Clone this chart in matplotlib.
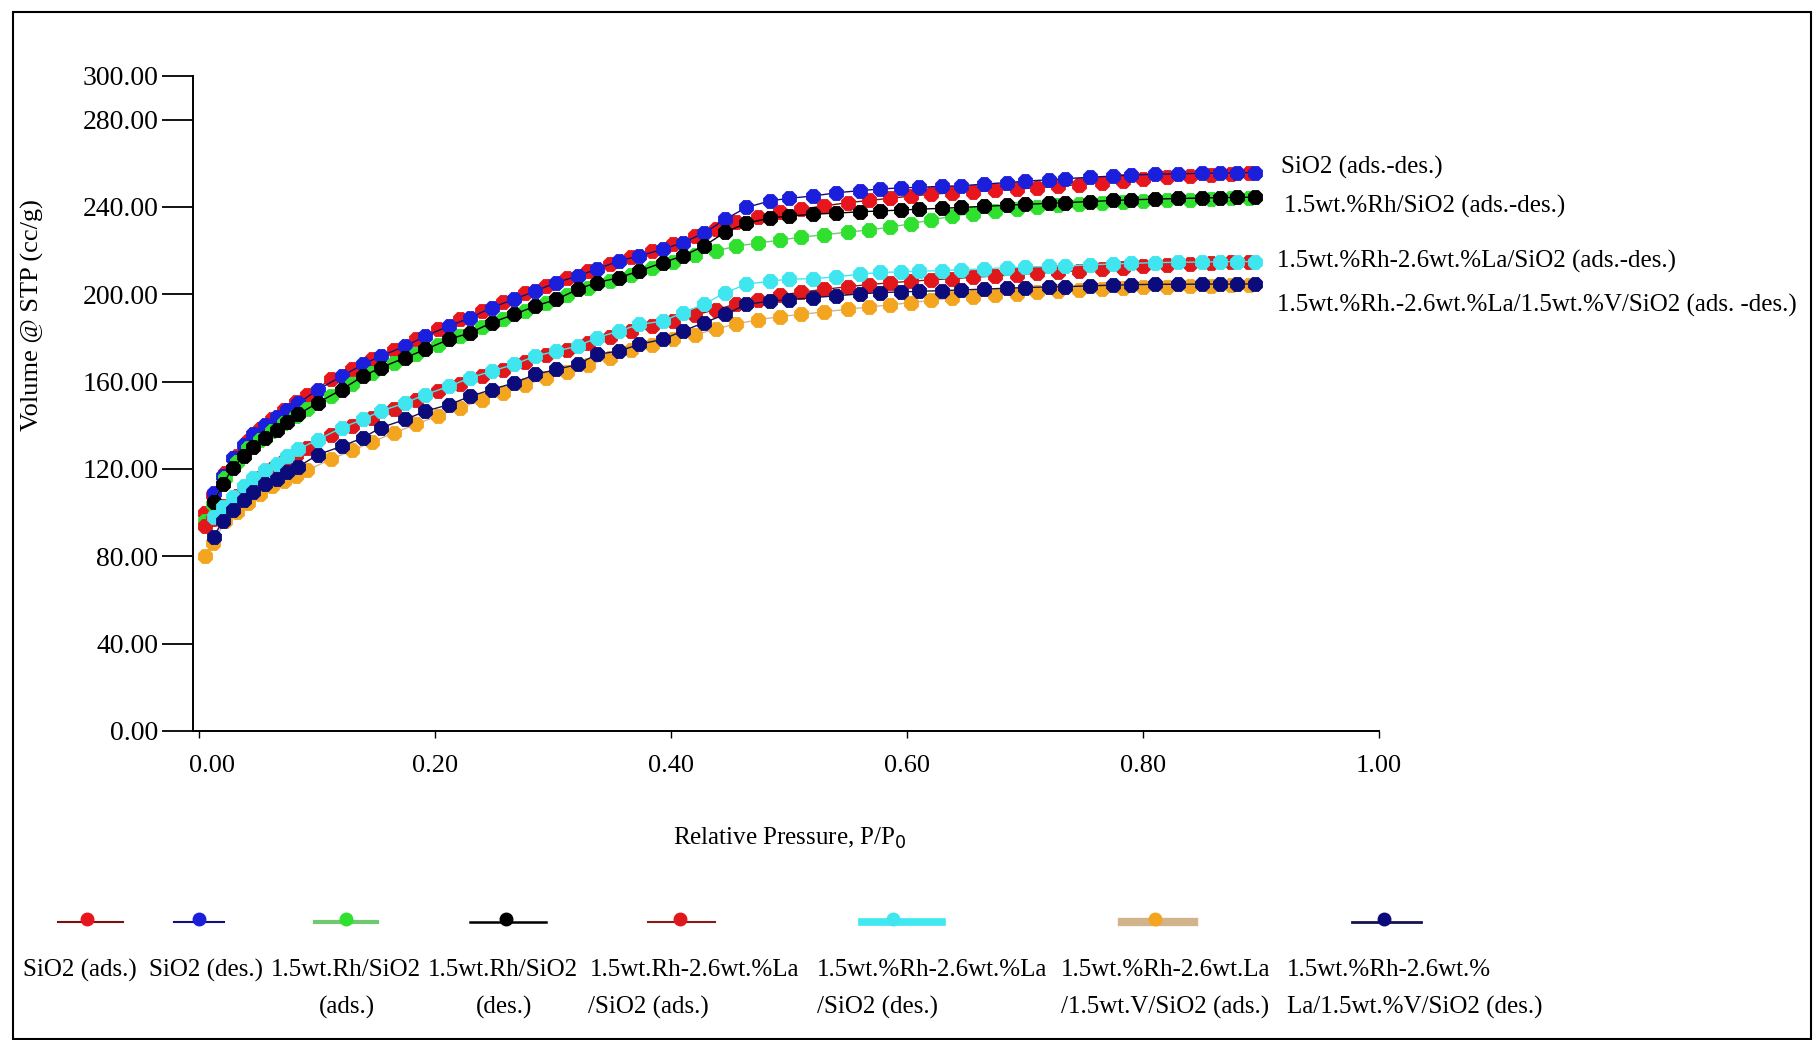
import matplotlib
matplotlib.use("Agg")
import matplotlib.pyplot as plt
import matplotlib.transforms as mtransforms
from matplotlib.lines import Line2D
from matplotlib.patches import Rectangle

plt.rcParams["font.family"] = ["Liberation Serif", "DejaVu Serif"]

# Relative pressure grids (adsorption / desorption branches)
x_ads = [0.005, 0.012, 0.022, 0.032, 0.042, 0.052, 0.062, 0.072, 0.082, 0.092,
         0.112, 0.13, 0.147, 0.165, 0.184, 0.203, 0.221, 0.24, 0.258, 0.276,
         0.294, 0.312, 0.33, 0.348, 0.366, 0.384, 0.402, 0.42, 0.438, 0.455,
         0.474, 0.492, 0.51, 0.53, 0.55, 0.568, 0.586, 0.603, 0.62, 0.638,
         0.656, 0.675, 0.693, 0.71, 0.728, 0.746, 0.765, 0.783, 0.80, 0.82,
         0.84, 0.858, 0.875, 0.89]
x_des = [0.0126, 0.02, 0.029, 0.038, 0.046, 0.056, 0.066, 0.075, 0.084, 0.101,
         0.121, 0.139, 0.154, 0.175, 0.192, 0.212, 0.23, 0.248, 0.267, 0.285,
         0.303, 0.321, 0.337, 0.356, 0.373, 0.393, 0.41, 0.428, 0.446, 0.464,
         0.484, 0.50, 0.52, 0.54, 0.56, 0.577, 0.595, 0.61, 0.63, 0.646,
         0.665, 0.685, 0.70, 0.72, 0.734, 0.755, 0.775, 0.79, 0.81, 0.83,
         0.85, 0.865, 0.88, 0.895]

sio2_ads = [100, 108, 118, 126, 133, 138.5, 143, 147, 150.5, 154,
            161, 166, 170.5, 174.5, 179.5, 184, 188.5, 192.5, 196.5, 200.5,
            204, 207.5, 210.5, 214, 217, 220, 223, 226.5, 230, 233,
            235.5, 237.5, 239, 240.5, 242, 243, 244, 245, 245.8, 246.5,
            247, 247.6, 248.2, 248.8, 249.5, 250.3, 251.2, 252, 252.8, 253.6,
            254.3, 254.8, 255.2, 255.5]
sio2_des = [109, 117, 125, 131, 136, 140, 144, 147, 150, 156.4,
            162.5, 167.9, 171.7, 176.3, 180.9, 185.5, 189.3, 193.9, 197.7, 201.5,
            205.4, 208.4, 211.5, 215.3, 217.6, 220.6, 223.7, 228, 234.4, 239.8,
            242.8, 244, 245, 246.5, 247.5, 248.2, 248.8, 249, 249.5, 249.7,
            250.5, 251.2, 251.8, 252.5, 253, 253.6, 254.2, 254.6, 255, 255.2,
            255.4, 255.5, 255.6, 255.8]
rh_ads = [96, 104, 116, 123, 129.7, 133.5, 137.5, 141, 144.5, 147.5,
          153.5, 159, 164, 168.5, 172.5, 177, 181, 185, 188.5, 192.5,
          196, 199.5, 203, 206, 209, 212, 215, 218, 219.9, 222,
          223.5, 224.8, 226.2, 227.3, 228.5, 229.5, 230.8, 232.3, 234, 235.8,
          237, 238.2, 239.2, 240, 240.8, 241.3, 241.8, 242.3, 242.7, 243.1,
          243.4, 243.7, 243.9, 244]
rh_des = [105, 113, 120.5, 126, 130, 134, 138, 141.5, 145, 150.4,
          156.4, 162.5, 166.4, 171, 174.8, 179.4, 182.4, 187, 190.8, 194.6,
          197.7, 202.3, 205.4, 207.6, 210.7, 214.5, 217.6, 222.1, 228.5, 232.5,
          235, 235.8, 236.7, 237.2, 237.8, 238.2, 238.6, 239, 239.4, 239.8,
          240.3, 240.8, 241.2, 241.7, 242, 242.5, 243, 243.3, 243.6, 243.9,
          244.1, 244.3, 244.4, 244.5]
rhla_ads = [94, 97, 103, 107.5, 112, 116, 120, 123.5, 126.5, 129.5,
            135.5, 139.5, 143.5, 147.5, 151.5, 155.5, 159, 162.5, 165.5, 169,
            172, 174.5, 177.5, 180.5, 183, 185.5, 188, 190.5, 193, 195.5,
            197.5, 199.5, 201, 202.3, 203.5, 204.5, 205.3, 206, 206.6, 207.2,
            207.8, 208.4, 209, 209.6, 210.2, 210.8, 211.5, 212.2, 212.8, 213.4,
            213.9, 214.3, 214.6, 214.8]
rhla_des = [98, 102.5, 107, 112, 116, 119.5, 122.5, 126, 129, 133.5,
            138.9, 142.7, 146.5, 150.3, 154.1, 157.9, 161.8, 164.8, 167.9, 171.7,
            174, 176.3, 180.1, 183.2, 186.2, 187.7, 191.6, 195.4, 200.8, 204.6,
            206.1, 206.9, 207.2, 208, 209.2, 210, 210.3, 210.6, 210.9, 211.2,
            211.7, 212.2, 212.5, 212.8, 213, 213.5, 213.9, 214.2, 214.5, 214.7,
            214.8, 214.9, 215, 215]
rhlav_ads = [80, 86, 96, 100.5, 104.5, 108.5, 112, 114.5, 117, 119.5,
             124.5, 128.5, 132.5, 136.5, 140.5, 144.5, 148, 151.5, 155, 158.5,
             161.5, 164.5, 167.5, 171, 174.5, 177, 179.5, 181.5, 184, 186.5,
             188.3, 189.8, 190.8, 192, 193.2, 194.2, 195.2, 196.2, 197.2, 198.2,
             199, 199.7, 200.3, 200.9, 201.4, 201.9, 202.4, 202.8, 203.2, 203.5,
             203.8, 204, 204.1, 204.2]
rhlav_des = [89, 96, 101, 106, 109.5, 113, 115.5, 118.5, 121, 126.6,
             130.4, 134.3, 138.9, 142.7, 146.5, 149.5, 153.3, 156.4, 159.4, 163.3,
             165.6, 167.9, 172.5, 174, 177.1, 179.4, 183.2, 187, 190.8, 195.4,
             196.9, 197.5, 198.5, 199.3, 200.2, 200.8, 201.1, 201.4, 201.7, 202,
             202.4, 202.8, 203.1, 203.4, 203.5, 203.9, 204.2, 204.4, 204.6, 204.6,
             204.7, 204.7, 204.7, 204.8]

series_x = [x_ads, x_des, x_ads, x_des, x_ads, x_des, x_ads, x_des]
series_y = [sio2_ads, sio2_des, rh_ads, rh_des, rhla_ads, rhla_des, rhlav_ads, rhlav_des]
marker_colors = ["#e8161c", "#1b1fdc", "#2fe02f", "#000000",
                 "#e0181c", "#3fe6ef", "#f4a51f", "#0b0b7c"]
line_colors = ["#7a1010", "#10107a", "#70c870", "#000000",
               "#8a1a1a", "#40e8f0", "#d2b48c", "#141450"]
legend_widths = [1.5, 1.5, 3.0, 1.8, 1.5, 5.5, 6.0, 2.0]

legend_line1 = ["SiO2 (ads.)", "SiO2 (des.)", "1.5wt.Rh/SiO2", "1.5wt.Rh/SiO2",
                "1.5wt.Rh-2.6wt.%La", "1.5wt.%Rh-2.6wt.%La",
                "1.5wt.%Rh-2.6wt.La", "1.5wt.%Rh-2.6wt.%"]
legend_line2 = ["", "", "(ads.)", "(des.)", "/SiO2 (ads.)", "/SiO2 (des.)",
                "/1.5wt.V/SiO2 (ads.)", "La/1.5wt.%V/SiO2 (des.)"]
side_labels = ["SiO2 (ads.-des.)", "1.5wt.%Rh/SiO2 (ads.-des.)",
               "1.5wt.%Rh-2.6wt.%La/SiO2 (ads.-des.)",
               "1.5wt.%Rh.-2.6wt.%La/1.5wt.%V/SiO2 (ads. -des.)"]

W, H = 1814, 1040
fig = plt.figure(figsize=(W / 100, H / 100), dpi=100)
ax = fig.add_axes([193 / W, 1 - 731 / H, (1379 - 193) / W, (731 - 76) / H])

for xs, ys, mc, lc in zip(series_x, series_y, marker_colors, line_colors):
    ax.plot(xs, ys, "-", color=lc, lw=1.0, marker="8", ms=10.5,
            mfc=mc, mec=mc, mew=0.6, zorder=3)

ax.set_xlim(-0.005, 1.0)
ax.set_ylim(0, 300)
ax.spines["top"].set_visible(False)
ax.spines["right"].set_visible(False)
for s in ("left", "bottom"):
    ax.spines[s].set_linewidth(1.4)

yt = [0, 40, 80, 120, 160, 200, 240, 280, 300]
ax.set_yticks(yt, [f"{v:.2f}" for v in yt])
xt = [0, 0.2, 0.4, 0.6, 0.8, 1.0]
ax.set_xticks(xt, [f"{v:.2f}" for v in xt])
ax.tick_params(axis="y", direction="out", length=22, width=1.3, pad=3, labelsize=20)
ax.tick_params(axis="x", direction="out", length=5, width=1, pad=12, labelsize=19)

# first x label sits a little right of its tick in the original
lab0 = ax.get_xticklabels()[0]
lab0.set_transform(lab0.get_transform()
                   + mtransforms.ScaledTranslation(0.13, 0, fig.dpi_scale_trans))

fig.text(790 / W, 1 - 838 / H, "Relative Pressure, P/P$_0$", ha="center", va="center",
         fontsize=18)
fig.text(32 / W, 1 - 315 / H, "Volume @ STP (cc/g)", rotation=90, ha="center",
         va="center", fontsize=19)

side_pos = [(1281, 167), (1284, 206), (1277, 261), (1277, 305)]
for (px, py), lab in zip(side_pos, side_labels):
    fig.text(px / W, 1 - py / H, lab, ha="left", va="center", fontsize=18)

# bottom legend: handle above, text below
handle_pos = [(58, 123, 87), (174, 224, 199), (315, 377, 346), (470, 546, 506),
              (648, 715, 680), (862, 942, 893), (1122, 1194, 1155), (1352, 1421, 1384)]
text_pos = [(23, None), (149, None), (271, 347), (428, 504),
            (590, 588), (817, 817), (1061, 1061), (1287, 1287)]
hy = 1 - 922 / H
for i in range(8):
    x0, x1, xm = handle_pos[i]
    fig.add_artist(Line2D([x0 / W, x1 / W], [hy, hy], transform=fig.transFigure,
                          color=line_colors[i], lw=legend_widths[i]))
    fig.add_artist(Line2D([xm / W], [hy + 3 / H], transform=fig.transFigure,
                          marker="o", ms=9, mfc=marker_colors[i], mec=marker_colors[i],
                          ls="none"))
    tx1, tx2 = text_pos[i]
    fig.text(tx1 / W, 1 - 970 / H, legend_line1[i], ha="left", va="center", fontsize=18)
    if legend_line2[i]:
        ha = "center" if i in (2, 3) else "left"
        fig.text(tx2 / W, 1 - 1007 / H, legend_line2[i], ha=ha, va="center",
                 fontsize=18)

fig.add_artist(Rectangle((13 / W, 1 / H), (1811 - 13) / W, (1028 - 1) / H,
                         transform=fig.transFigure, fill=False, lw=1.5, ec="black"))

fig.savefig("out.png", dpi=100)
